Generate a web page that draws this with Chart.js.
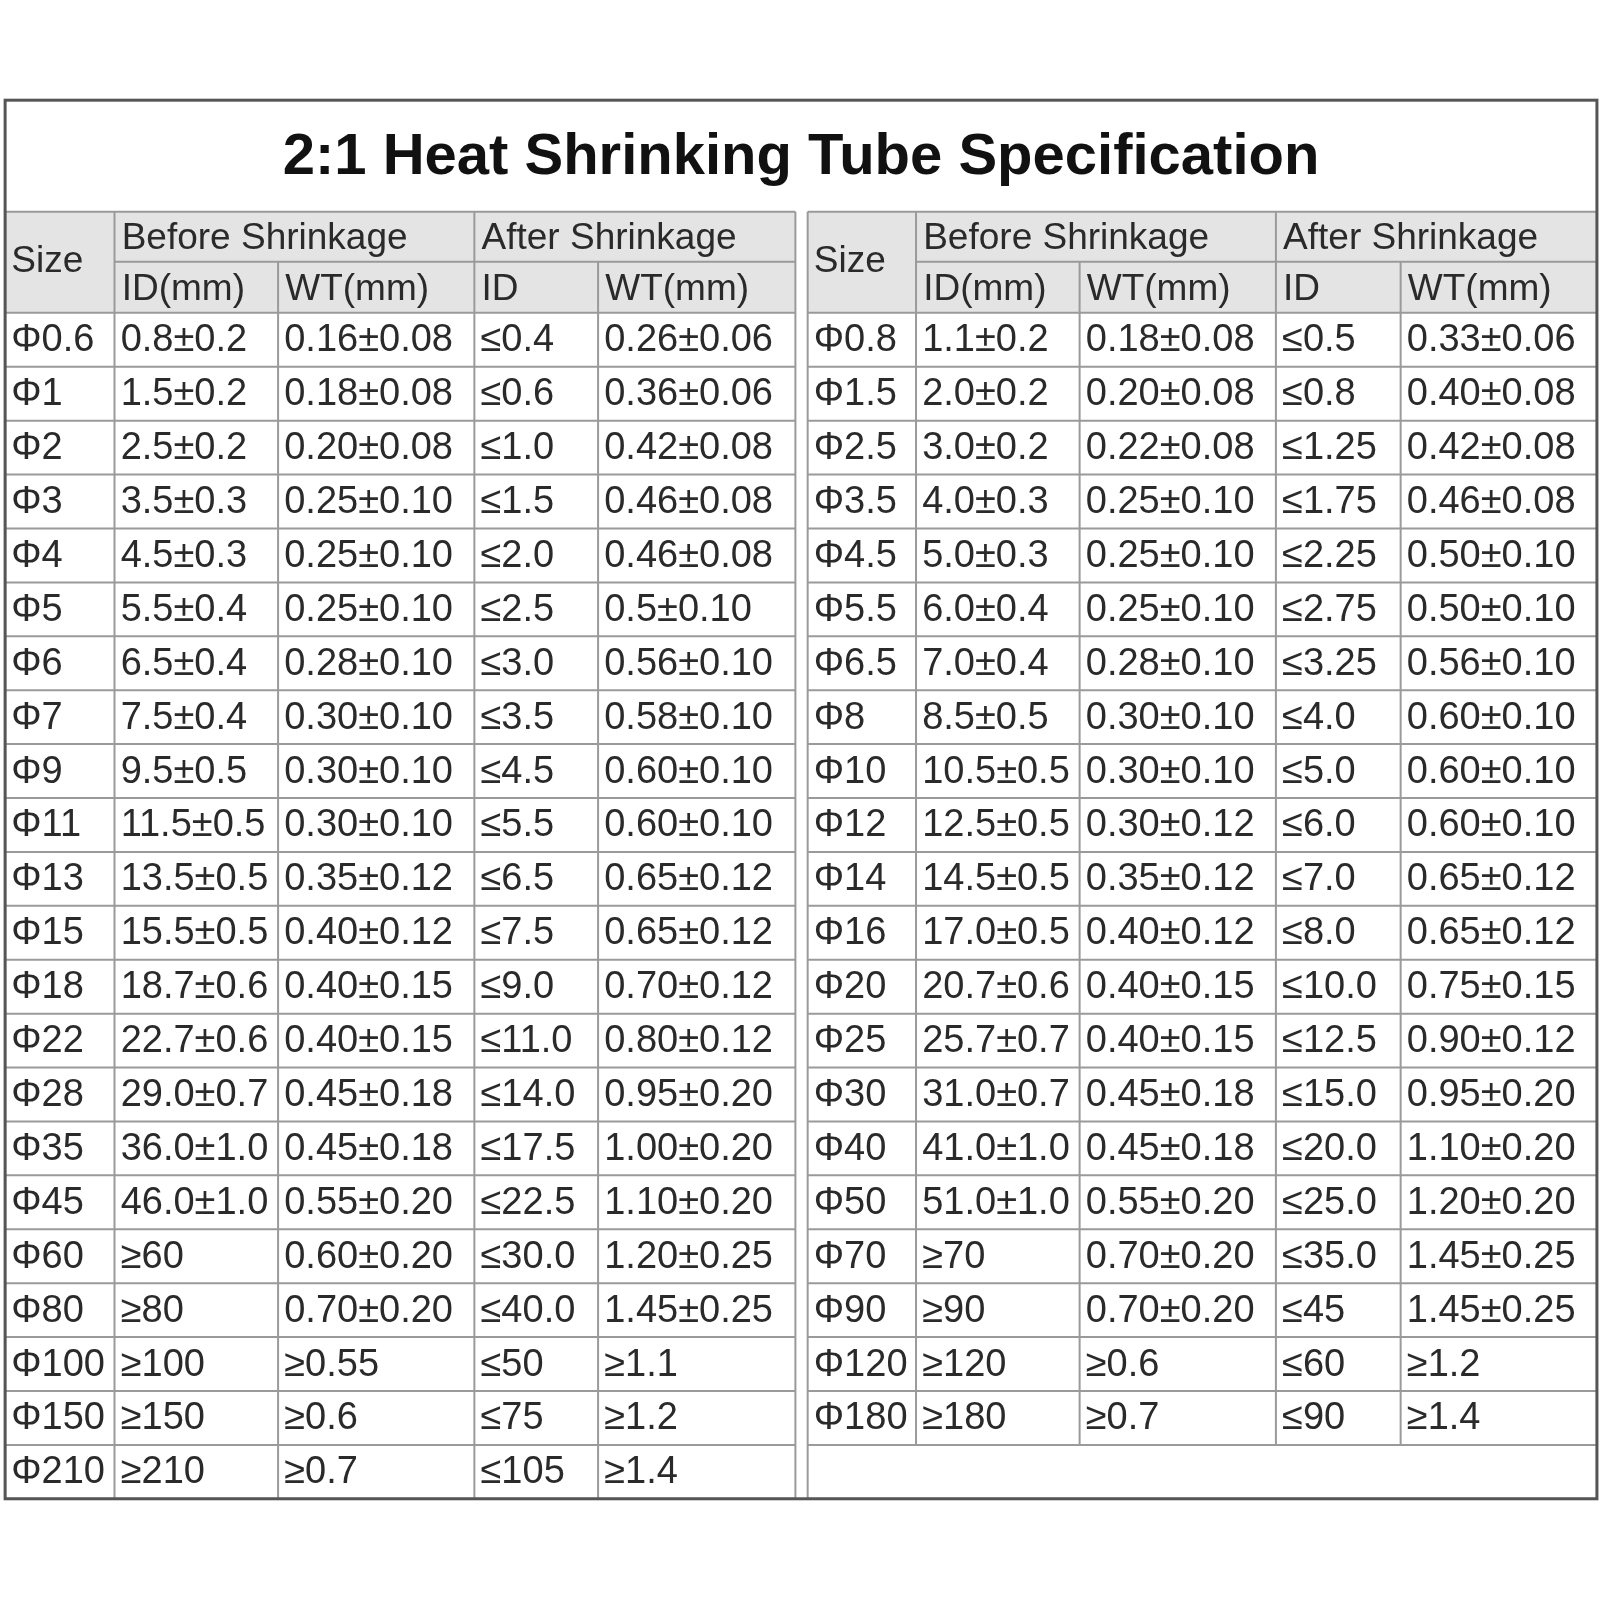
<!DOCTYPE html>
<html><head><meta charset="utf-8">
<script src="https://cdn.jsdelivr.net/npm/chart.js@4"></script>
<style>html,body{margin:0;padding:0;background:#fff}canvas{display:block}</style>
</head><body><canvas id="c" width="1600" height="1600"></canvas>
<script>
const title = "2:1 Heat Shrinking Tube Specification";
const headerTop = ["Size","Before Shrinkage","After Shrinkage"];
const headerSub = ["ID(mm)","WT(mm)","ID","WT(mm)"];
const sizesL = ["Φ0.6","Φ1","Φ2","Φ3","Φ4","Φ5","Φ6","Φ7","Φ9","Φ11","Φ13","Φ15","Φ18","Φ22","Φ28","Φ35","Φ45","Φ60","Φ80","Φ100","Φ150","Φ210"];
const idBeforeL = ["0.8±0.2","1.5±0.2","2.5±0.2","3.5±0.3","4.5±0.3","5.5±0.4","6.5±0.4","7.5±0.4","9.5±0.5","11.5±0.5","13.5±0.5","15.5±0.5","18.7±0.6","22.7±0.6","29.0±0.7","36.0±1.0","46.0±1.0","≥60","≥80","≥100","≥150","≥210"];
const wtBeforeL = ["0.16±0.08","0.18±0.08","0.20±0.08","0.25±0.10","0.25±0.10","0.25±0.10","0.28±0.10","0.30±0.10","0.30±0.10","0.30±0.10","0.35±0.12","0.40±0.12","0.40±0.15","0.40±0.15","0.45±0.18","0.45±0.18","0.55±0.20","0.60±0.20","0.70±0.20","≥0.55","≥0.6","≥0.7"];
const idAfterL = ["≤0.4","≤0.6","≤1.0","≤1.5","≤2.0","≤2.5","≤3.0","≤3.5","≤4.5","≤5.5","≤6.5","≤7.5","≤9.0","≤11.0","≤14.0","≤17.5","≤22.5","≤30.0","≤40.0","≤50","≤75","≤105"];
const wtAfterL = ["0.26±0.06","0.36±0.06","0.42±0.08","0.46±0.08","0.46±0.08","0.5±0.10","0.56±0.10","0.58±0.10","0.60±0.10","0.60±0.10","0.65±0.12","0.65±0.12","0.70±0.12","0.80±0.12","0.95±0.20","1.00±0.20","1.10±0.20","1.20±0.25","1.45±0.25","≥1.1","≥1.2","≥1.4"];
const sizesR = ["Φ0.8","Φ1.5","Φ2.5","Φ3.5","Φ4.5","Φ5.5","Φ6.5","Φ8","Φ10","Φ12","Φ14","Φ16","Φ20","Φ25","Φ30","Φ40","Φ50","Φ70","Φ90","Φ120","Φ180"];
const idBeforeR = ["1.1±0.2","2.0±0.2","3.0±0.2","4.0±0.3","5.0±0.3","6.0±0.4","7.0±0.4","8.5±0.5","10.5±0.5","12.5±0.5","14.5±0.5","17.0±0.5","20.7±0.6","25.7±0.7","31.0±0.7","41.0±1.0","51.0±1.0","≥70","≥90","≥120","≥180"];
const wtBeforeR = ["0.18±0.08","0.20±0.08","0.22±0.08","0.25±0.10","0.25±0.10","0.25±0.10","0.28±0.10","0.30±0.10","0.30±0.10","0.30±0.12","0.35±0.12","0.40±0.12","0.40±0.15","0.40±0.15","0.45±0.18","0.45±0.18","0.55±0.20","0.70±0.20","0.70±0.20","≥0.6","≥0.7"];
const idAfterR = ["≤0.5","≤0.8","≤1.25","≤1.75","≤2.25","≤2.75","≤3.25","≤4.0","≤5.0","≤6.0","≤7.0","≤8.0","≤10.0","≤12.5","≤15.0","≤20.0","≤25.0","≤35.0","≤45","≤60","≤90"];
const wtAfterR = ["0.33±0.06","0.40±0.08","0.42±0.08","0.46±0.08","0.50±0.10","0.50±0.10","0.56±0.10","0.60±0.10","0.60±0.10","0.60±0.10","0.65±0.12","0.65±0.12","0.75±0.15","0.90±0.12","0.95±0.20","1.10±0.20","1.20±0.20","1.45±0.25","1.45±0.25","≥1.2","≥1.4"];

// layout (scale units)
const colL = [5,112,272,464,585,778];
const colR = [790,896,1056,1248,1370,1562];
const yTop = 98, yTitle = 207, yHead = 256, yBody = 306, yBottom = 1466, nRows = 22;

const tablePlugin = {
  id:'table',
  afterDraw(chart){
    const ctx = chart.ctx, X = v=>chart.scales.x.getPixelForValue(v), Y = v=>chart.scales.y.getPixelForValue(v);
    const rowH = (yBottom-yBody)/nRows;
    ctx.save();
    ctx.fillStyle = '#e4e4e4';
    ctx.fillRect(X(colL[0]),Y(yTitle),X(colL[5])-X(colL[0]),Y(yBody)-Y(yTitle));
    ctx.fillRect(X(colR[0]),Y(yTitle),X(colR[5])-X(colR[0]),Y(yBody)-Y(yTitle));
    ctx.strokeStyle = '#9a9a9a'; ctx.lineWidth = 2;
    const line=(x1,y1,x2,y2)=>{ctx.beginPath();ctx.moveTo(X(x1),Y(y1));ctx.lineTo(X(x2),Y(y2));ctx.stroke();};
    [[colL,sizesL.length],[colR,sizesR.length]].forEach(([cols,n])=>{
      const end = yBody+rowH*n;
      line(cols[0],yTitle,cols[5],yTitle);
      line(cols[1],yHead,cols[5],yHead);
      for(let r=0;r<=n;r++) line(cols[0],yBody+rowH*r,cols[5],yBody+rowH*r);
      line(cols[0],yTitle,cols[0],yBottom); line(cols[5],yTitle,cols[5],yBottom);
      line(cols[1],yTitle,cols[1],end); line(cols[3],yTitle,cols[3],end);
      line(cols[2],yHead,cols[2],end); line(cols[4],yHead,cols[4],end);
    });
    line(colR[0],yBottom,colR[5],yBottom);
    ctx.strokeStyle='#555'; ctx.lineWidth=3;
    ctx.strokeRect(X(colL[0]),Y(yTop),X(colR[5])-X(colL[0]),Y(yBottom)-Y(yTop));
    ctx.fillStyle='#111'; ctx.textBaseline='middle'; ctx.textAlign='center';
    ctx.font='bold 58px "Liberation Sans", Arial, sans-serif';
    ctx.fillText(title,X((colL[0]+colR[5])/2),Y((yTop+yTitle)/2+2));
    ctx.textAlign='left'; ctx.fillStyle='#2a2a2a';
    ctx.font='37px "Liberation Sans", Arial, sans-serif';
    [colL,colR].forEach(cols=>{
      ctx.fillText(headerTop[0],X(cols[0]+6),Y((yTitle+yBody)/2));
      ctx.fillText(headerTop[1],X(cols[1]+7),Y((yTitle+yHead)/2+2));
      ctx.fillText(headerTop[2],X(cols[3]+7),Y((yTitle+yHead)/2+2));
      headerSub.forEach((t,i)=>ctx.fillText(t,X(cols[i+1]+7),Y((yHead+yBody)/2+2)));
    });
    ctx.font='38px "Liberation Sans", Arial, sans-serif';
    [[colL,[sizesL,idBeforeL,wtBeforeL,idAfterL,wtAfterL]],[colR,[sizesR,idBeforeR,wtBeforeR,idAfterR,wtAfterR]]].forEach(([cols,arrs])=>{
      arrs.forEach((arr,c)=>arr.forEach((t,r)=>{
        ctx.fillText(t,X(cols[c]+6),Y(yBody+rowH*(r+0.5)+1));
      }));
    });
    ctx.restore();
  }
};

new Chart(document.getElementById('c'),{
  type:'scatter',
  data:{datasets:[{data:[]}]},
  options:{responsive:false,devicePixelRatio:1,animation:false,
    layout:{padding:0},
    plugins:{legend:{display:false},tooltip:{enabled:false}},
    scales:{x:{type:'linear',min:0,max:1565,display:false},y:{type:'linear',min:0,max:1565,reverse:true,display:false}}},
  plugins:[tablePlugin]
});
</script></body></html>
